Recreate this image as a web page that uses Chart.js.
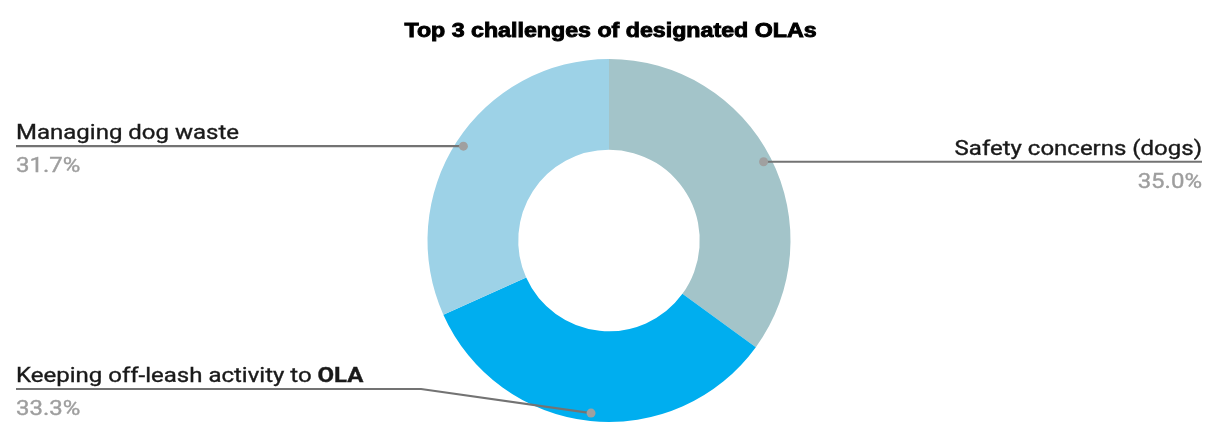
<!DOCTYPE html>
<html>
<head>
<meta charset="utf-8">
<script src="https://cdn.jsdelivr.net/npm/chart.js@4.4.1/dist/chart.umd.min.js"></script>
<style>
    html, body { margin: 0; padding: 0; background: #fff; }
    .obal { width: 1211px; height: 427px; position: relative; }
</style>
</head>
<body>
<div class="obal"><canvas id="graf"></canvas></div>
<script>
const nadpis = 'Top 3 challenges of designated OLAs';
const kategorie = ['Safety concerns (dogs)', 'Keeping off-leash activity to OLA', 'Managing dog waste'];
const hodnoty = [35.0, 33.3, 31.7];
const barvy = ['#a3c4c9', '#00aeef', '#9dd2e7'];

// text roztazeny do sirky (predloha je horizontalne natazena)
function napis(ctx, text, x, y, zarovnani, sx, obrys) {
    const w = ctx.measureText(text).width * sx;
    let levo = x;
    if (zarovnani === 'right') levo = x - w;
    if (zarovnani === 'center') levo = x - w / 2;
    ctx.save();
    ctx.translate(levo, y);
    ctx.scale(sx, 1);
    ctx.textAlign = 'left';
    ctx.fillText(text, 0, 0);
    if (obrys) {
        ctx.strokeStyle = ctx.fillStyle;
        ctx.lineWidth = obrys;
        ctx.strokeText(text, 0, 0);
    }
    ctx.restore();
    return w;
}

// popisky s vodici carou
const popiskyPlugin = {
    id: 'popisky',
    afterDraw(chart) {
        const ctx = chart.ctx;
        const meta = chart.getDatasetMeta(0);
        const stred = meta.data[0].getProps(['x'], true).x;
        const sx = 1.2;

        ctx.save();
        ctx.fillStyle = '#000';
        ctx.font = 'bold 20px "Liberation Sans", Arial, sans-serif';
        ctx.textBaseline = 'alphabetic';
        napis(ctx, nadpis, stred + 1.5, 37, 'center', 1.16, 0.9);

        meta.data.forEach((arc, i) => {
            const p = arc.getProps(['x', 'y', 'startAngle', 'endAngle', 'outerRadius'], true);
            const uhel = (p.startAngle + p.endAngle) / 2;
            const r = p.outerRadius - 8;
            const tx = p.x + Math.cos(uhel) * r;
            const ty = p.y + Math.sin(uhel) * r;
            const vpravo = Math.cos(uhel) >= 0;
            const liniY = Math.min(ty, chart.height - 38);
            const okraj = vpravo ? chart.width - 9 : 16;

            ctx.strokeStyle = '#737373';
            ctx.lineWidth = 2.2;
            ctx.beginPath();
            ctx.moveTo(okraj, liniY);
            if (liniY < ty) {
                const zlom = tx + (vpravo ? 170 : -170);
                ctx.lineTo(zlom, liniY);
            }
            ctx.lineTo(tx, ty);
            ctx.stroke();

            ctx.fillStyle = '#a0a0a0';
            ctx.beginPath();
            ctx.arc(tx, ty, 4.5, 0, Math.PI * 2);
            ctx.fill();

            const label = chart.data.labels[i];
            ctx.fillStyle = '#1a1a1a';
            const normal = '20px Roboto, sans-serif';
            const tucne = 'bold 20px Roboto, sans-serif';
            let cast1 = label, cast2 = '';
            if (label.endsWith(' OLA')) {
                cast1 = label.slice(0, -3);
                cast2 = 'OLA';
            }
            ctx.font = normal;
            const s1 = ctx.measureText(cast1).width * sx;
            ctx.font = tucne;
            const s2 = cast2 ? ctx.measureText(cast2).width * sx : 0;
            const x0 = vpravo ? okraj - s1 - s2 : okraj;
            ctx.font = normal;
            napis(ctx, cast1, x0, liniY - 7, 'left', sx, 0.35);
            if (cast2) {
                ctx.font = tucne;
                napis(ctx, cast2, x0 + s1, liniY - 7, 'left', sx, 0.35);
            }

            ctx.font = '20px Roboto, sans-serif';
            ctx.fillStyle = '#9e9e9e';
            napis(ctx, chart.data.datasets[0].data[i].toFixed(1) + '%', okraj, liniY + 26, vpravo ? 'right' : 'left', sx, 0.35);
        });
        ctx.restore();
    }
};

new Chart(document.getElementById('graf'), {
    type: 'doughnut',
    data: {
        labels: kategorie,
        datasets: [{
            data: hodnoty,
            backgroundColor: barvy,
            borderWidth: 0,
            hoverOffset: 0
        }]
    },
    options: {
        responsive: true,
        maintainAspectRatio: false,
        animation: false,
        cutout: '50%',
        events: [],
        layout: {
            padding: { top: 59, bottom: 5, left: 7, right: 0 }
        },
        plugins: {
            legend: { display: false },
            tooltip: { enabled: false }
        }
    },
    plugins: [popiskyPlugin]
});
</script>
</body>
</html>
